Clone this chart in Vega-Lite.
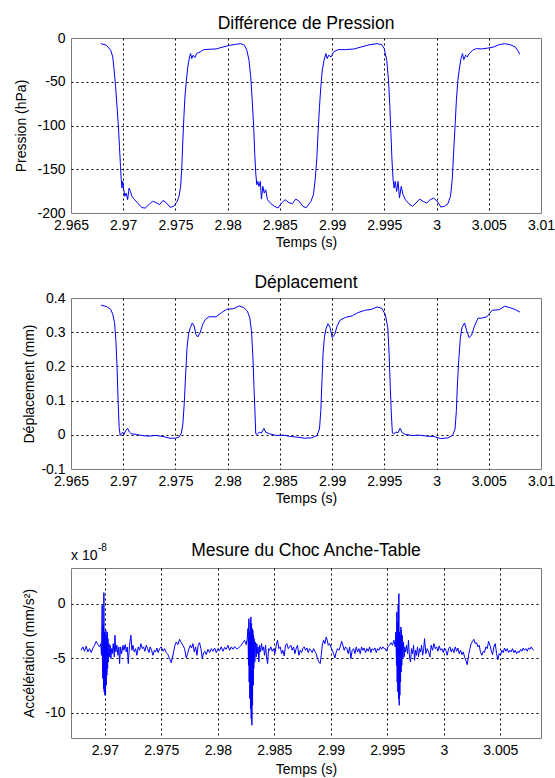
{
"$schema": "https://vega.github.io/schema/vega-lite/v6.json",
"background": "white",
"padding": {"left": 14, "top": 14, "right": 0, "bottom": 0},
"config": {
 "font": "Liberation Sans",
 "view": {"stroke": "#7a7a7a", "strokeWidth": 1},
 "axis": {"domain": false, "ticks": false, "tickSize": 0, "grid": true, "gridColor": "#000000", "gridDash": [2, 3], "gridWidth": 1,
  "labelFont": "Liberation Sans", "labelFontSize": 14, "labelColor": "#000000", "labelFlush": false, "labelOverlap": false,
  "titleFont": "Liberation Sans", "titleFontSize": 14, "titleFontWeight": "normal", "titleColor": "#000000"},
 "axisX": {"labelPadding": 5, "titlePadding": 3},
 "axisY": {"labelPadding": 6},
 "title": {"font": "Liberation Sans", "fontSize": 17.5, "fontWeight": "normal", "color": "#000000"}
},
"datasets": {
"pression": [
{"t":2.96788,"p":-6.5},{"t":2.96839,"p":-8.3},{"t":2.9688,"p":-14.0},{"t":2.969,"p":-21.6},{"t":2.96913,"p":-36.8},{"t":2.96927,"p":-55.8},{"t":2.96941,"p":-78.6},{"t":2.96954,"p":-101.4},{"t":2.96964,"p":-124.1},{"t":2.96974,"p":-146.9},{"t":2.96981,"p":-162.0},{"t":2.96988,"p":-171.5},{"t":2.96995,"p":-163.9},{"t":2.97005,"p":-173.4},{"t":2.97015,"p":-181.0},{"t":2.97029,"p":-177.2},{"t":2.97042,"p":-184.8},{"t":2.97056,"p":-171.5},{"t":2.97069,"p":-175.3},{"t":2.97083,"p":-181.0},{"t":2.9711,"p":-184.8},{"t":2.97144,"p":-189.4},{"t":2.97178,"p":-193.9},{"t":2.97212,"p":-194.3},{"t":2.97245,"p":-190.5},{"t":2.97279,"p":-186.7},{"t":2.97313,"p":-187.9},{"t":2.97347,"p":-190.5},{"t":2.97381,"p":-185.6},{"t":2.97415,"p":-188.6},{"t":2.97449,"p":-193.5},{"t":2.97483,"p":-192.4},{"t":2.97517,"p":-186.7},{"t":2.97534,"p":-181.0},{"t":2.9755,"p":-169.6},{"t":2.97561,"p":-146.9},{"t":2.97571,"p":-116.5},{"t":2.97581,"p":-89.9},{"t":2.97591,"p":-67.2},{"t":2.97605,"p":-48.2},{"t":2.97618,"p":-33.0},{"t":2.97635,"p":-21.6},{"t":2.97645,"p":-17.8},{"t":2.97656,"p":-23.5},{"t":2.97669,"p":-19.7},{"t":2.97686,"p":-22.4},{"t":2.97703,"p":-17.8},{"t":2.97737,"p":-15.9},{"t":2.97771,"p":-13.3},{"t":2.97822,"p":-12.9},{"t":2.97889,"p":-12.5},{"t":2.97957,"p":-10.2},{"t":2.98025,"p":-8.3},{"t":2.98076,"p":-7.2},{"t":2.98127,"p":-6.5},{"t":2.9816,"p":-8.3},{"t":2.98184,"p":-14.0},{"t":2.98204,"p":-25.4},{"t":2.98221,"p":-44.4},{"t":2.98235,"p":-71.0},{"t":2.98249,"p":-101.4},{"t":2.98259,"p":-131.7},{"t":2.98269,"p":-154.5},{"t":2.98279,"p":-167.7},{"t":2.98289,"p":-163.9},{"t":2.98299,"p":-169.6},{"t":2.98313,"p":-163.9},{"t":2.98323,"p":-184.1},{"t":2.98337,"p":-169.6},{"t":2.9835,"p":-177.2},{"t":2.98364,"p":-173.4},{"t":2.98381,"p":-184.8},{"t":2.98415,"p":-189.4},{"t":2.98448,"p":-192.4},{"t":2.98482,"p":-194.3},{"t":2.98516,"p":-188.6},{"t":2.9855,"p":-184.8},{"t":2.98584,"p":-187.9},{"t":2.98618,"p":-189.4},{"t":2.98652,"p":-184.1},{"t":2.98686,"p":-186.7},{"t":2.9872,"p":-192.4},{"t":2.98753,"p":-193.9},{"t":2.98797,"p":-186.7},{"t":2.98821,"p":-179.1},{"t":2.98838,"p":-162.0},{"t":2.98855,"p":-135.5},{"t":2.98865,"p":-108.9},{"t":2.98879,"p":-78.6},{"t":2.98892,"p":-55.8},{"t":2.98906,"p":-36.8},{"t":2.98923,"p":-25.4},{"t":2.9894,"p":-17.8},{"t":2.98953,"p":-23.5},{"t":2.98967,"p":-19.7},{"t":2.98991,"p":-21.6},{"t":2.99014,"p":-15.9},{"t":2.99058,"p":-13.3},{"t":2.99126,"p":-13.3},{"t":2.99211,"p":-12.5},{"t":2.99279,"p":-10.2},{"t":2.99363,"p":-7.6},{"t":2.99431,"p":-6.5},{"t":2.99475,"p":-7.6},{"t":2.99499,"p":-12.1},{"t":2.99523,"p":-25.4},{"t":2.9954,"p":-48.2},{"t":2.99553,"p":-78.6},{"t":2.99563,"p":-108.9},{"t":2.99573,"p":-139.3},{"t":2.99584,"p":-162.0},{"t":2.99594,"p":-171.5},{"t":2.99604,"p":-163.9},{"t":2.99618,"p":-175.3},{"t":2.99631,"p":-163.9},{"t":2.99645,"p":-182.9},{"t":2.99662,"p":-169.6},{"t":2.99679,"p":-179.1},{"t":2.99702,"p":-184.8},{"t":2.99736,"p":-189.4},{"t":2.9977,"p":-192.4},{"t":2.99804,"p":-188.6},{"t":2.99838,"p":-184.1},{"t":2.99872,"p":-186.7},{"t":2.99906,"p":-188.6},{"t":2.99939,"p":-184.8},{"t":2.99973,"p":-182.9},{"t":3.00007,"p":-186.7},{"t":3.00041,"p":-193.2},{"t":3.00075,"p":-192.4},{"t":3.00109,"p":-189.4},{"t":3.00133,"p":-181.0},{"t":3.0015,"p":-162.0},{"t":3.00163,"p":-131.7},{"t":3.00177,"p":-101.4},{"t":3.0019,"p":-71.0},{"t":3.00204,"p":-48.2},{"t":3.00221,"p":-33.0},{"t":3.00234,"p":-23.5},{"t":3.00248,"p":-17.8},{"t":3.00261,"p":-24.7},{"t":3.00278,"p":-19.7},{"t":3.00295,"p":-21.6},{"t":3.00312,"p":-17.8},{"t":3.00346,"p":-14.0},{"t":3.0038,"p":-12.1},{"t":3.00431,"p":-12.5},{"t":3.00499,"p":-11.4},{"t":3.00549,"p":-10.2},{"t":3.006,"p":-7.6},{"t":3.00651,"p":-6.5},{"t":3.00702,"p":-7.6},{"t":3.00753,"p":-10.2},{"t":3.00776,"p":-14.0},{"t":3.00797,"p":-18.6}
],
"deplacement": [
{"t":2.96788,"d":0.379},{"t":2.96839,"d":0.375},{"t":2.9688,"d":0.367},{"t":2.969,"d":0.352},{"t":2.96917,"d":0.328},{"t":2.9693,"d":0.275},{"t":2.96941,"d":0.197},{"t":2.96951,"d":0.1},{"t":2.96961,"d":0.022},{"t":2.96971,"d":-0.002},{"t":2.96984,"d":0.003},{"t":2.96995,"d":0.008},{"t":2.97008,"d":0.001},{"t":2.97025,"d":0.013},{"t":2.97042,"d":0.019},{"t":2.97059,"d":0.008},{"t":2.97076,"d":0.003},{"t":2.97127,"d":0.001},{"t":2.97178,"d":-0.002},{"t":2.97245,"d":-0.004},{"t":2.97313,"d":-0.002},{"t":2.97381,"d":-0.005},{"t":2.97449,"d":-0.01},{"t":2.975,"d":-0.01},{"t":2.97534,"d":-0.007},{"t":2.97557,"d":0.005},{"t":2.97571,"d":0.032},{"t":2.97584,"d":0.09},{"t":2.97598,"d":0.178},{"t":2.97611,"d":0.255},{"t":2.97625,"d":0.294},{"t":2.97642,"d":0.313},{"t":2.97662,"d":0.327},{"t":2.97679,"d":0.318},{"t":2.97696,"d":0.294},{"t":2.97713,"d":0.286},{"t":2.97737,"d":0.299},{"t":2.97761,"d":0.323},{"t":2.97788,"d":0.338},{"t":2.97822,"d":0.345},{"t":2.97889,"d":0.345},{"t":2.9794,"d":0.357},{"t":2.97991,"d":0.367},{"t":2.98059,"d":0.369},{"t":2.9811,"d":0.377},{"t":2.98154,"d":0.372},{"t":2.98188,"d":0.362},{"t":2.98211,"d":0.343},{"t":2.98228,"d":0.304},{"t":2.98242,"d":0.226},{"t":2.98252,"d":0.139},{"t":2.98262,"d":0.061},{"t":2.98269,"d":0.003},{"t":2.98282,"d":0.001},{"t":2.98303,"d":0.008},{"t":2.98323,"d":0.005},{"t":2.98347,"d":0.019},{"t":2.98364,"d":0.008},{"t":2.98398,"d":0.003},{"t":2.98465,"d":-0.002},{"t":2.98533,"d":-0.001},{"t":2.98601,"d":-0.005},{"t":2.98669,"d":-0.007},{"t":2.98737,"d":-0.01},{"t":2.98804,"d":-0.009},{"t":2.98855,"d":-0.002},{"t":2.98879,"d":0.017},{"t":2.98892,"d":0.071},{"t":2.98903,"d":0.158},{"t":2.98913,"d":0.236},{"t":2.98926,"d":0.284},{"t":2.9894,"d":0.309},{"t":2.9896,"d":0.325},{"t":2.9898,"d":0.314},{"t":2.99001,"d":0.284},{"t":2.99025,"d":0.294},{"t":2.99048,"d":0.318},{"t":2.99075,"d":0.335},{"t":2.99126,"d":0.343},{"t":2.99194,"d":0.348},{"t":2.99245,"d":0.357},{"t":2.99313,"d":0.364},{"t":2.9938,"d":0.367},{"t":2.99431,"d":0.374},{"t":2.99475,"d":0.37},{"t":2.99509,"d":0.352},{"t":2.99533,"d":0.314},{"t":2.99546,"d":0.236},{"t":2.99557,"d":0.139},{"t":2.99567,"d":0.061},{"t":2.99577,"d":0.005},{"t":2.9959,"d":0.003},{"t":2.99611,"d":0.008},{"t":2.99631,"d":0.006},{"t":2.99651,"d":0.019},{"t":2.99672,"d":0.006},{"t":2.99702,"d":0.001},{"t":2.9977,"d":-0.002},{"t":2.99838,"d":-0.001},{"t":2.99906,"d":-0.004},{"t":2.99973,"d":-0.005},{"t":3.00041,"d":-0.011},{"t":3.00109,"d":-0.009},{"t":3.00153,"d":-0.002},{"t":3.00177,"d":0.017},{"t":3.0019,"d":0.071},{"t":3.002,"d":0.149},{"t":3.00214,"d":0.226},{"t":3.00228,"d":0.284},{"t":3.00244,"d":0.314},{"t":3.00268,"d":0.327},{"t":3.00289,"d":0.304},{"t":3.00312,"d":0.284},{"t":3.00336,"d":0.292},{"t":3.00363,"d":0.318},{"t":3.00397,"d":0.341},{"t":3.00431,"d":0.341},{"t":3.00482,"d":0.345},{"t":3.00532,"d":0.364},{"t":3.006,"d":0.366},{"t":3.00651,"d":0.376},{"t":3.00702,"d":0.372},{"t":3.00753,"d":0.366},{"t":3.00797,"d":0.359}
],
"choc": [
{"t":2.9679,"a":-4.25},{"t":2.96805,"a":-3.94},{"t":2.9682,"a":-4.34},{"t":2.96834,"a":-3.88},{"t":2.96849,"a":-4.4},{"t":2.96864,"a":-4.1},{"t":2.96879,"a":-4.46},{"t":2.96894,"a":-4.04},{"t":2.96908,"a":-3.79},{"t":2.96923,"a":-3.43},{"t":2.96938,"a":-3.73},{"t":2.96953,"a":-3.94},{"t":2.96964,"a":-3.64},{"t":2.9697,"a":-4.71},{"t":2.96976,"a":-0.12},{"t":2.96979,"a":-5.63},{"t":2.96982,"a":-6.85},{"t":2.96985,"a":-1.96},{"t":2.96988,"a":-7.77},{"t":2.96991,"a":1.04},{"t":2.96994,"a":-8.07},{"t":2.96997,"a":-2.57},{"t":2.97,"a":-8.38},{"t":2.97003,"a":-3.49},{"t":2.97006,"a":-8.23},{"t":2.97009,"a":-2.42},{"t":2.97012,"a":-7.46},{"t":2.97015,"a":-2.87},{"t":2.97018,"a":-6.54},{"t":2.97021,"a":-2.57},{"t":2.97024,"a":-5.93},{"t":2.97027,"a":-3.18},{"t":2.9703,"a":-5.32},{"t":2.97036,"a":-3.64},{"t":2.97041,"a":-4.86},{"t":2.97047,"a":-3.79},{"t":2.97053,"a":-5.02},{"t":2.97059,"a":-4.1},{"t":2.97065,"a":-4.56},{"t":2.97074,"a":-3.64},{"t":2.97083,"a":-4.86},{"t":2.97089,"a":-2.87},{"t":2.97097,"a":-4.4},{"t":2.97106,"a":-3.79},{"t":2.97115,"a":-4.71},{"t":2.97124,"a":-3.94},{"t":2.9713,"a":-5.47},{"t":2.97139,"a":-3.94},{"t":2.97148,"a":-4.56},{"t":2.9716,"a":-3.79},{"t":2.97168,"a":-4.25},{"t":2.9718,"a":-3.73},{"t":2.97189,"a":-4.4},{"t":2.97198,"a":-3.94},{"t":2.97207,"a":-5.47},{"t":2.97218,"a":-3.79},{"t":2.9723,"a":-2.87},{"t":2.97239,"a":-4.25},{"t":2.97248,"a":-3.79},{"t":2.9726,"a":-4.4},{"t":2.97272,"a":-4.1},{"t":2.97283,"a":-4.71},{"t":2.97295,"a":-3.94},{"t":2.97307,"a":-4.25},{"t":2.97319,"a":-3.64},{"t":2.97331,"a":-4.1},{"t":2.97342,"a":-3.94},{"t":2.97354,"a":-4.34},{"t":2.97366,"a":-3.79},{"t":2.97378,"a":-4.1},{"t":2.9739,"a":-4.46},{"t":2.97401,"a":-3.94},{"t":2.97413,"a":-4.25},{"t":2.97425,"a":-4.71},{"t":2.97437,"a":-4.25},{"t":2.97449,"a":-4.4},{"t":2.9746,"a":-4.04},{"t":2.97472,"a":-4.46},{"t":2.97484,"a":-4.1},{"t":2.97499,"a":-3.94},{"t":2.97514,"a":-4.34},{"t":2.97528,"a":-4.1},{"t":2.97543,"a":-4.46},{"t":2.97558,"a":-4.65},{"t":2.97573,"a":-5.02},{"t":2.97587,"a":-5.38},{"t":2.97596,"a":-5.02},{"t":2.97608,"a":-4.4},{"t":2.9762,"a":-3.79},{"t":2.97632,"a":-3.49},{"t":2.97646,"a":-3.73},{"t":2.97661,"a":-3.24},{"t":2.97676,"a":-3.55},{"t":2.97691,"a":-3.79},{"t":2.97705,"a":-4.1},{"t":2.9772,"a":-4.95},{"t":2.97732,"a":-4.56},{"t":2.97744,"a":-4.1},{"t":2.97756,"a":-3.79},{"t":2.97767,"a":-4.04},{"t":2.97779,"a":-3.64},{"t":2.97791,"a":-4.4},{"t":2.97803,"a":-3.94},{"t":2.97815,"a":-4.71},{"t":2.97826,"a":-3.79},{"t":2.97838,"a":-3.55},{"t":2.9785,"a":-4.1},{"t":2.97862,"a":-5.02},{"t":2.97874,"a":-4.46},{"t":2.97885,"a":-4.34},{"t":2.97897,"a":-4.65},{"t":2.97912,"a":-4.16},{"t":2.97927,"a":-4.46},{"t":2.97942,"a":-4.1},{"t":2.97956,"a":-4.34},{"t":2.97971,"a":-4.04},{"t":2.97986,"a":-4.46},{"t":2.98001,"a":-4.1},{"t":2.98015,"a":-4.28},{"t":2.9803,"a":-3.94},{"t":2.98045,"a":-4.34},{"t":2.9806,"a":-3.98},{"t":2.98074,"a":-4.16},{"t":2.98089,"a":-3.79},{"t":2.98104,"a":-4.25},{"t":2.98119,"a":-3.94},{"t":2.98133,"a":-4.16},{"t":2.98148,"a":-3.91},{"t":2.98163,"a":-4.1},
{"t":2.98177,"a":-4.1},{"t":2.98192,"a":-3.94},{"t":2.98206,"a":-3.79},{"t":2.98221,"a":-3.55},{"t":2.98236,"a":-3.33},{"t":2.98251,"a":-3.73},{"t":2.9826,"a":-3.18},{"t":2.98266,"a":-2.26},{"t":2.98271,"a":-5.63},{"t":2.98274,"a":-1.35},{"t":2.98277,"a":-7.16},{"t":2.9828,"a":-2.57},{"t":2.98283,"a":-8.69},{"t":2.98286,"a":-1.65},{"t":2.98289,"a":-9.6},{"t":2.98292,"a":-1.19},{"t":2.98295,"a":-10.52},{"t":2.98298,"a":-1.8},{"t":2.98301,"a":-11.13},{"t":2.98304,"a":-2.26},{"t":2.98307,"a":-9.3},{"t":2.9831,"a":-2.42},{"t":2.98313,"a":-7.46},{"t":2.98316,"a":-2.87},{"t":2.98318,"a":-5.93},{"t":2.98321,"a":-3.18},{"t":2.98327,"a":-5.32},{"t":2.98333,"a":-3.49},{"t":2.98339,"a":-4.86},{"t":2.98345,"a":-3.64},{"t":2.98351,"a":-4.56},{"t":2.98357,"a":-3.94},{"t":2.98363,"a":-5.32},{"t":2.98369,"a":-3.79},{"t":2.98378,"a":-4.4},{"t":2.98387,"a":-3.64},{"t":2.98395,"a":-4.25},{"t":2.98404,"a":-3.94},{"t":2.98413,"a":-4.71},{"t":2.98422,"a":-3.79},{"t":2.98431,"a":-4.86},{"t":2.9844,"a":-5.47},{"t":2.98449,"a":-4.1},{"t":2.98457,"a":-4.25},{"t":2.98469,"a":-3.94},{"t":2.98481,"a":-4.34},{"t":2.98493,"a":-4.1},{"t":2.98505,"a":-4.56},{"t":2.98516,"a":-3.79},{"t":2.98528,"a":-3.33},{"t":2.9854,"a":-4.1},{"t":2.98552,"a":-3.94},{"t":2.98564,"a":-4.56},{"t":2.98575,"a":-4.25},{"t":2.98587,"a":-4.77},{"t":2.98599,"a":-3.79},{"t":2.98611,"a":-3.64},{"t":2.98623,"a":-4.1},{"t":2.98634,"a":-3.94},{"t":2.98646,"a":-3.79},{"t":2.98658,"a":-4.25},{"t":2.9867,"a":-3.94},{"t":2.98682,"a":-4.56},{"t":2.98693,"a":-4.1},{"t":2.98705,"a":-3.79},{"t":2.98717,"a":-4.71},{"t":2.98729,"a":-4.25},{"t":2.98741,"a":-4.46},{"t":2.98752,"a":-4.1},{"t":2.98764,"a":-3.94},{"t":2.98776,"a":-4.25},{"t":2.98788,"a":-4.04},{"t":2.988,"a":-4.46},{"t":2.98811,"a":-4.1},{"t":2.98823,"a":-4.25},{"t":2.98835,"a":-4.46},{"t":2.98847,"a":-4.1},{"t":2.98859,"a":-4.34},{"t":2.9887,"a":-4.56},{"t":2.98882,"a":-5.02},{"t":2.98894,"a":-5.32},{"t":2.98906,"a":-5.47},{"t":2.98915,"a":-4.71},{"t":2.98924,"a":-3.79},{"t":2.98936,"a":-3.33},{"t":2.98947,"a":-3.64},{"t":2.98959,"a":-3.03},{"t":2.98968,"a":-3.33},{"t":2.98977,"a":-3.79},{"t":2.98989,"a":-3.64},{"t":2.99,"a":-3.94},{"t":2.99012,"a":-4.25},{"t":2.99024,"a":-4.56},{"t":2.99036,"a":-4.95},{"t":2.99048,"a":-4.4},{"t":2.99059,"a":-4.1},{"t":2.99071,"a":-4.25},{"t":2.99083,"a":-3.94},{"t":2.99095,"a":-3.43},{"t":2.99107,"a":-3.79},{"t":2.99118,"a":-4.25},{"t":2.9913,"a":-3.94},{"t":2.99142,"a":-4.1},{"t":2.99154,"a":-4.56},{"t":2.99166,"a":-3.94},{"t":2.99177,"a":-5.02},{"t":2.99189,"a":-4.25},{"t":2.99201,"a":-4.1},{"t":2.99213,"a":-4.56},{"t":2.99225,"a":-3.94},{"t":2.99236,"a":-4.4},{"t":2.99248,"a":-4.1},{"t":2.9926,"a":-4.56},{"t":2.99272,"a":-3.94},{"t":2.99284,"a":-4.25},{"t":2.99295,"a":-4.04},{"t":2.99307,"a":-4.46},{"t":2.99319,"a":-4.1},{"t":2.99331,"a":-4.34},{"t":2.99343,"a":-3.94},{"t":2.99354,"a":-4.46},{"t":2.99366,"a":-4.1},{"t":2.99378,"a":-4.25},{"t":2.9939,"a":-4.04},{"t":2.99402,"a":-4.46},{"t":2.99413,"a":-4.1},{"t":2.99425,"a":-4.25},{"t":2.99437,"a":-3.94},{"t":2.99449,"a":-4.16},{"t":2.99461,"a":-3.94},{"t":2.99472,"a":-4.1},
{"t":2.99481,"a":-4.1},{"t":2.99493,"a":-4.34},{"t":2.99504,"a":-3.94},{"t":2.99519,"a":-3.79},{"t":2.99534,"a":-3.55},{"t":2.99546,"a":-3.79},{"t":2.99558,"a":-3.33},{"t":2.9957,"a":-3.94},{"t":2.99575,"a":-2.57},{"t":2.99581,"a":-5.63},{"t":2.99584,"a":-0.73},{"t":2.99587,"a":-7.16},{"t":2.9959,"a":-1.65},{"t":2.99593,"a":-8.07},{"t":2.99596,"a":-0.12},{"t":2.99599,"a":-8.69},{"t":2.99602,"a":0.95},{"t":2.99605,"a":-9.3},{"t":2.99608,"a":-2.57},{"t":2.99611,"a":-8.38},{"t":2.99614,"a":-2.87},{"t":2.99617,"a":-7.16},{"t":2.9962,"a":-2.11},{"t":2.99622,"a":-6.24},{"t":2.99625,"a":-2.42},{"t":2.99628,"a":-5.63},{"t":2.99631,"a":-2.87},{"t":2.99637,"a":-5.02},{"t":2.99643,"a":-3.49},{"t":2.99649,"a":-4.86},{"t":2.99655,"a":-3.94},{"t":2.99661,"a":-4.4},{"t":2.9967,"a":-3.79},{"t":2.99679,"a":-4.56},{"t":2.99687,"a":-3.33},{"t":2.99696,"a":-4.86},{"t":2.99705,"a":-5.32},{"t":2.99714,"a":-4.1},{"t":2.99723,"a":-4.56},{"t":2.99732,"a":-3.79},{"t":2.99741,"a":-5.17},{"t":2.9975,"a":-4.25},{"t":2.99758,"a":-4.71},{"t":2.99767,"a":-3.94},{"t":2.99776,"a":-4.86},{"t":2.99785,"a":-4.1},{"t":2.99794,"a":-4.4},{"t":2.99803,"a":-3.79},{"t":2.99812,"a":-4.71},{"t":2.99821,"a":-4.25},{"t":2.99829,"a":-3.18},{"t":2.99841,"a":-4.56},{"t":2.99853,"a":-4.1},{"t":2.99865,"a":-4.4},{"t":2.99877,"a":-4.86},{"t":2.99888,"a":-3.79},{"t":2.999,"a":-4.25},{"t":2.99912,"a":-3.64},{"t":2.99924,"a":-4.1},{"t":2.99936,"a":-3.94},{"t":2.99947,"a":-4.34},{"t":2.99959,"a":-3.85},{"t":2.99971,"a":-4.25},{"t":2.99983,"a":-4.1},{"t":2.99995,"a":-4.46},{"t":3.00006,"a":-4.04},{"t":3.00018,"a":-4.25},{"t":3.0003,"a":-4.71},{"t":3.00042,"a":-4.1},{"t":3.00054,"a":-3.94},{"t":3.00065,"a":-4.4},{"t":3.00077,"a":-4.1},{"t":3.00089,"a":-4.46},{"t":3.00101,"a":-3.94},{"t":3.00113,"a":-4.34},{"t":3.00124,"a":-4.04},{"t":3.00136,"a":-4.56},{"t":3.00148,"a":-4.25},{"t":3.0016,"a":-4.65},{"t":3.00172,"a":-4.4},{"t":3.00183,"a":-4.86},{"t":3.00195,"a":-5.17},{"t":3.00207,"a":-5.57},{"t":3.00219,"a":-4.71},{"t":3.00231,"a":-4.1},{"t":3.00242,"a":-3.64},{"t":3.00254,"a":-3.43},{"t":3.00266,"a":-3.24},{"t":3.00278,"a":-3.64},{"t":3.0029,"a":-3.55},{"t":3.00301,"a":-3.94},{"t":3.00313,"a":-3.79},{"t":3.00325,"a":-4.46},{"t":3.00337,"a":-4.71},{"t":3.00349,"a":-4.34},{"t":3.0036,"a":-4.46},{"t":3.00372,"a":-3.94},{"t":3.00384,"a":-4.1},{"t":3.00396,"a":-3.43},{"t":3.00408,"a":-3.79},{"t":3.00419,"a":-4.25},{"t":3.00431,"a":-4.65},{"t":3.00443,"a":-3.94},{"t":3.00455,"a":-3.64},{"t":3.00467,"a":-4.56},{"t":3.00478,"a":-5.11},{"t":3.0049,"a":-4.56},{"t":3.00502,"a":-4.71},{"t":3.00514,"a":-4.25},{"t":3.00526,"a":-4.46},{"t":3.00537,"a":-4.04},{"t":3.00549,"a":-4.34},{"t":3.00561,"a":-4.1},{"t":3.00573,"a":-4.46},{"t":3.00585,"a":-4.25},{"t":3.00596,"a":-4.4},{"t":3.00608,"a":-4.1},{"t":3.0062,"a":-4.46},{"t":3.00632,"a":-4.25},{"t":3.00644,"a":-4.56},{"t":3.00655,"a":-4.34},{"t":3.00667,"a":-4.46},{"t":3.00679,"a":-4.16},{"t":3.00691,"a":-4.34},{"t":3.00703,"a":-4.04},{"t":3.00714,"a":-4.25},{"t":3.00726,"a":-4.1},{"t":3.00738,"a":-4.34},{"t":3.0075,"a":-4.04},{"t":3.00762,"a":-4.16},{"t":3.00773,"a":-3.94},{"t":3.00785,"a":-4.16},{"t":3.00797,"a":-4.25}
],
"exposant": [{"base": "x 10", "puissance": "-8"}]
},
"spacing": 35,
"vconcat": [
 {
  "spacing": 23,
  "vconcat": [
   {
    "width": 470, "height": 175,
    "title": {"text": "Différence de Pression", "offset": -1},
    "data": {"name": "pression"},
    "mark": {"type": "line", "color": "#0000ff", "strokeWidth": 1},
    "encoding": {
     "x": {"field": "t", "type": "quantitative", "scale": {"domain": [2.965, 3.01], "nice": false, "zero": false},
       "axis": {"title": "Temps (s)", "values": [2.965, 2.97, 2.975, 2.98, 2.985, 2.99, 2.995, 3, 3.005, 3.01], "labelExpr": "'' + datum.value",
        "gridOpacity": {"condition": {"test": "datum.value <= 2.965 || datum.value >= 3.01", "value": 0}, "value": 1}}},
     "y": {"field": "p", "type": "quantitative", "scale": {"domain": [-200, 0], "nice": false, "zero": false},
       "axis": {"title": "Pression (hPa)", "titlePadding": 8, "values": [-200, -150, -100, -50, 0], "labelExpr": "'' + datum.value",
        "gridOpacity": {"condition": {"test": "datum.value <= -200 || datum.value >= 0", "value": 0}, "value": 1}}}
    }
   },
   {
    "width": 470, "height": 171,
    "title": {"text": "Déplacement", "offset": 0},
    "data": {"name": "deplacement"},
    "mark": {"type": "line", "color": "#0000ff", "strokeWidth": 1},
    "encoding": {
     "x": {"field": "t", "type": "quantitative", "scale": {"domain": [2.965, 3.01], "nice": false, "zero": false},
       "axis": {"title": "Temps (s)", "values": [2.965, 2.97, 2.975, 2.98, 2.985, 2.99, 2.995, 3, 3.005, 3.01], "labelExpr": "'' + datum.value",
        "gridOpacity": {"condition": {"test": "datum.value <= 2.965 || datum.value >= 3.01", "value": 0}, "value": 1}}},
     "y": {"field": "d", "type": "quantitative", "scale": {"domain": [-0.1, 0.4], "nice": false, "zero": false},
       "axis": {"title": "Déplacement (mm)", "titlePadding": 4, "values": [-0.1, 0, 0.1, 0.2, 0.3, 0.4], "labelExpr": "'' + datum.value",
        "gridOpacity": {"condition": {"test": "datum.value <= -0.1 || datum.value >= 0.4", "value": 0}, "value": 1}}}
    }
   }
  ]
 },
 {
  "width": 470, "height": 170,
  "title": {"text": "Mesure du Choc Anche-Table", "offset": -16},
  "layer": [
   {
    "data": {"name": "choc"},
    "mark": {"type": "line", "color": "#0000ff", "strokeWidth": 1},
    "encoding": {
     "x": {"field": "t", "type": "quantitative", "scale": {"domain": [2.967, 3.0086], "nice": false, "zero": false},
       "axis": {"title": "Temps (s)", "titlePadding": 5, "values": [2.97, 2.975, 2.98, 2.985, 2.99, 2.995, 3, 3.005], "labelExpr": "'' + datum.value"}},
     "y": {"field": "a", "type": "quantitative", "scale": {"domain": [-12.3, 3.3], "nice": false, "zero": false},
       "axis": {"title": "Accélération (mm/s²)", "titlePadding": 8, "values": [-10, -5, 0], "labelExpr": "'' + datum.value"}}
    }
   },
   {
    "data": {"name": "exposant"},
    "mark": {"type": "text", "align": "left", "baseline": "middle", "fontSize": 14, "dy": -12, "color": "#000000", "font": "Liberation Sans"},
    "encoding": {"text": {"field": "base"}, "x": {"datum": 2.967, "type": "quantitative"}, "y": {"datum": 3.3, "type": "quantitative"}}
   },
   {
    "data": {"name": "exposant"},
    "mark": {"type": "text", "align": "left", "baseline": "middle", "fontSize": 10, "dx": 27, "dy": -20, "color": "#000000", "font": "Liberation Sans"},
    "encoding": {"text": {"field": "puissance"}, "x": {"datum": 2.967, "type": "quantitative"}, "y": {"datum": 3.3, "type": "quantitative"}}
   }
  ]
 }
]
}
